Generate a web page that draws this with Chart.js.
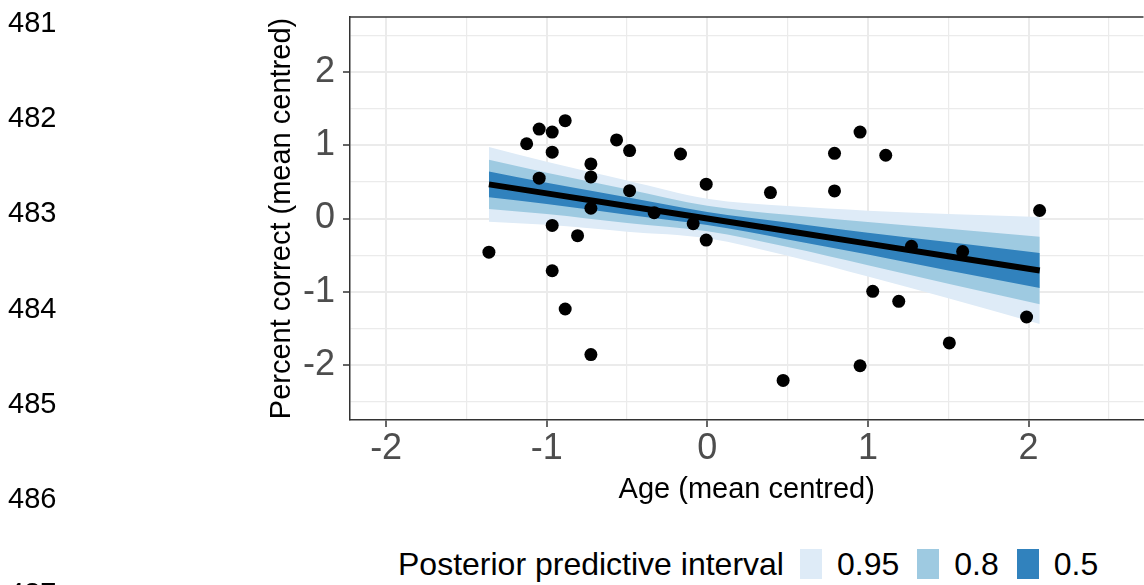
<!DOCTYPE html>
<html lang="en">
<head>
<meta charset="UTF-8">
<title>Percent correct vs age</title>
<script src="https://cdn.jsdelivr.net/npm/chart.js@4.4.1/dist/chart.umd.min.js"></script>
<style>
    body {
        margin: 0;
        background: #fff;
        font-family: "Liberation Sans", Arial, Helvetica, sans-serif;
    }
    .page {
        position: relative;
        width: 1144px;
        height: 585px;
        overflow: hidden;
    }
    .lineno {
        position: absolute;
        left: 8px;
        font-size: 29px;
        line-height: 28px;
        color: #000;
    }
    .chart-box {
        position: absolute;
        left: 0;
        top: 0;
        width: 1150px;
        height: 520px;
    }
    .legend {
        position: absolute;
        left: 398px;
        top: 549px;
        height: 30px;
        display: flex;
        align-items: center;
        font-size: 32px;
        color: #000;
        white-space: nowrap;
    }
    .legend .title { margin-right: 16px; }
    .legend .swatch { width: 22px; height: 30px; margin-right: 15px; }
    .legend .lab { margin-right: 18px; }
</style>
</head>
<body>
<div class="page" id="page">
    <div class="chart-box"><canvas id="chart"></canvas></div>
    <div class="legend" id="legend"></div>
</div>

<script>
    // line numbers of the manuscript page
    const lineNumbers = ['481', '482', '483', '484', '485', '486', '487'];

    // observed points (age, percent correct), both mean centred
    const ageX = [-1.36, -1.125, -1.047, -0.966, -0.885, -0.966, -1.047, -0.725, -0.725, -0.565,
                  -0.484, -0.484, -0.725, -0.331, -0.167, -0.007, -0.088, -0.007, -0.966, -0.808,
                  -0.966, -0.885, -0.725, 0.393, 0.792, 0.792, 0.951, 1.111, 2.069, 1.271,
                  1.59, 1.03, 1.192, 1.988, 1.507, 0.951, 0.472];
    const scoreY = [-0.46, 1.02, 1.22, 1.18, 1.335, 0.905, 0.55, 0.745, 0.568, 1.072,
                    0.927, 0.38, 0.14, 0.08, 0.88, 0.468, -0.07, -0.295, -0.095, -0.235,
                    -0.713, -1.235, -1.857, 0.354, 0.89, 0.377, 1.18, 0.863, 0.109, -0.38,
                    -0.45, -0.994, -1.13, -1.344, -1.698, -2.01, -2.21];

    // fitted line and interval bands
    const bandX = [-1.36, -1, -0.5, 0, 0.5, 1, 1.5, 2.07];
    const fitY = [0.466, 0.343, 0.17, 0.0, -0.17, -0.343, -0.515, -0.71];
    const upper95 = [0.976, 0.773, 0.52, 0.27, 0.17, 0.107, 0.06, 0.02];
    const lower95 = [-0.044, -0.087, -0.18, -0.27, -0.51, -0.793, -1.09, -1.44];
    const upper80 = [0.801, 0.623, 0.40, 0.175, 0.05, -0.048, -0.14, -0.25];
    const lower80 = [0.131, 0.063, -0.06, -0.175, -0.39, -0.638, -0.89, -1.17];
    const upper50 = [0.641, 0.488, 0.29, 0.09, -0.055, -0.193, -0.32, -0.47];
    const lower50 = [0.291, 0.198, 0.05, -0.09, -0.285, -0.493, -0.71, -0.95];

    const bandLevels = ['0.95', '0.8', '0.5'];
    const bandColors = ['#DEEBF7', '#9ECAE1', '#3182BD'];

    const xTicks = [-2, -1.5, -1, -0.5, 0, 0.5, 1, 1.5, 2, 2.5];
    const yTicks = [-2.5, -2, -1.5, -1, -0.5, 0, 0.5, 1, 1.5, 2, 2.5];

    // line numbers
    const page = document.getElementById('page');
    lineNumbers.forEach((n, i) => {
        const d = document.createElement('div');
        d.className = 'lineno';
        d.textContent = n;
        d.style.top = (8 + i * 95.2) + 'px';
        page.appendChild(d);
    });

    // legend
    const legend = document.getElementById('legend');
    const lt = document.createElement('span');
    lt.className = 'title';
    lt.textContent = 'Posterior predictive interval';
    legend.appendChild(lt);
    bandLevels.forEach((lvl, i) => {
        const sw = document.createElement('span');
        sw.className = 'swatch';
        sw.style.background = bandColors[i];
        legend.appendChild(sw);
        const lab = document.createElement('span');
        lab.className = 'lab';
        lab.textContent = lvl;
        legend.appendChild(lab);
    });

    const pts = (xs, ys) => xs.map((x, i) => ({ x: x, y: ys[i] }));

    function band(ys, color, fill, order) {
        return {
            data: pts(bandX, ys),
            showLine: true,
            borderWidth: 0,
            pointRadius: 0,
            cubicInterpolationMode: 'monotone',
            backgroundColor: color,
            fill: fill,
            order: order
        };
    }

    // top edge of the panel box
    const panelTop = {
        id: 'panelTop',
        afterDraw(chart) {
            const { ctx, chartArea } = chart;
            ctx.save();
            ctx.strokeStyle = '#333333';
            ctx.lineWidth = 1.5;
            ctx.beginPath();
            ctx.moveTo(chartArea.left, chartArea.top);
            ctx.lineTo(chartArea.right, chartArea.top);
            ctx.stroke();
            ctx.restore();
        }
    };

    const isMajor = v => Number.isInteger(v);
    const fontFam = '"Liberation Sans", Arial, Helvetica, sans-serif';

    function gridOpts() {
        return {
            color: '#EBEBEB',
            lineWidth: c => (c.tick && isMajor(c.tick.value)) ? 2 : 1.2,
            tickColor: c => (c.tick && isMajor(c.tick.value)) ? '#333333' : 'rgba(0,0,0,0)',
            tickLength: 7,
            tickWidth: 1.5
        };
    }

    new Chart(document.getElementById('chart'), {
        type: 'scatter',
        data: {
            datasets: [
                band(upper95, bandColors[0], '+1', 5),
                band(lower95, bandColors[0], false, 5),
                band(upper80, bandColors[1], '+1', 4),
                band(lower80, bandColors[1], false, 4),
                band(upper50, bandColors[2], '+1', 3),
                band(lower50, bandColors[2], false, 3),
                {
                    data: pts(bandX, fitY),
                    showLine: true,
                    borderColor: '#000',
                    borderWidth: 6,
                    pointRadius: 0,
                    fill: false,
                    order: 2
                },
                {
                    data: pts(ageX, scoreY),
                    backgroundColor: '#000',
                    borderColor: '#000',
                    pointRadius: 6.5,
                    borderWidth: 0,
                    order: 1
                }
            ]
        },
        options: {
            responsive: true,
            maintainAspectRatio: false,
            animation: false,
            layout: { padding: { top: 17, left: 0, right: 0, bottom: 0 } },
            plugins: { legend: { display: false }, tooltip: { enabled: false } },
            scales: {
                x: {
                    type: 'linear',
                    min: -2.225,
                    max: 2.716,
                    afterBuildTicks: s => { s.ticks = xTicks.map(v => ({ value: v })); },
                    afterFit: s => { s.height = 100; s.paddingLeft = 0; s.paddingRight = 0; },
                    grid: gridOpts(),
                    border: { display: true, color: '#333333', width: 1.5 },
                    ticks: {
                        autoSkip: false,
                        maxRotation: 0,
                        padding: 0,
                        color: '#4D4D4D',
                        font: { family: fontFam, size: 36 },
                        callback: v => isMajor(v) ? String(v) : ''
                    },
                    title: {
                        display: true,
                        text: 'Age (mean centred)',
                        color: '#000',
                        font: { family: fontFam, size: 29 },
                        padding: { top: 0, bottom: 13 }
                    }
                },
                y: {
                    type: 'linear',
                    min: -2.75,
                    max: 2.75,
                    afterBuildTicks: s => { s.ticks = yTicks.map(v => ({ value: v })); },
                    afterFit: s => { s.width = 350; s.paddingTop = 0; s.paddingBottom = 0; },
                    grid: gridOpts(),
                    border: { display: true, color: '#333333', width: 1.5 },
                    ticks: {
                        autoSkip: false,
                        padding: 8,
                        color: '#4D4D4D',
                        font: { family: fontFam, size: 36 },
                        callback: v => isMajor(v) ? String(v) : ''
                    },
                    title: {
                        display: true,
                        text: 'Percent correct (mean centred)',
                        color: '#000',
                        font: { family: fontFam, size: 29 },
                        padding: { top: 265, bottom: 0 }
                    }
                }
            }
        },
        plugins: [panelTop]
    });
</script>
</body>
</html>
